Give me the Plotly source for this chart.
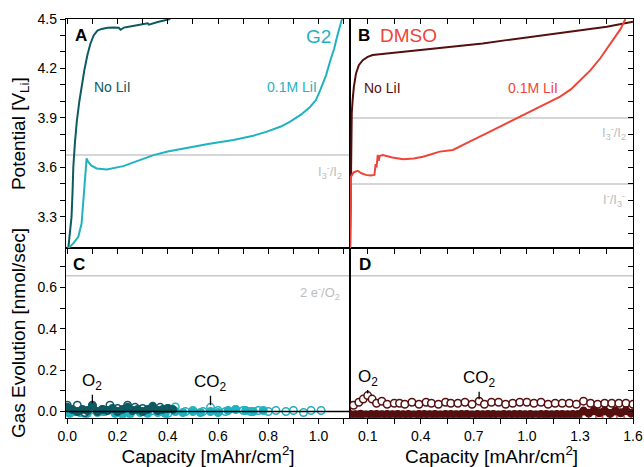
import plotly.graph_objects as go

# ---------------- Potential profiles (charge at constant current) ----------------
# G2, no LiI
g2_nolii_cap = [0.000, 0.004, 0.010, 0.017, 0.021, 0.024, 0.030, 0.038, 0.048, 0.058, 0.068,
                0.080, 0.092, 0.105, 0.120, 0.137, 0.160, 0.185, 0.205, 0.212, 0.225, 0.250,
                0.290, 0.320, 0.325, 0.360, 0.410]
g2_nolii_v = [3.05, 3.11, 3.20, 3.30, 3.45, 3.60, 3.74, 3.88, 4.00, 4.10, 4.19,
              4.28, 4.35, 4.40, 4.43, 4.44, 4.447, 4.448, 4.447, 4.435, 4.448, 4.455,
              4.467, 4.474, 4.466, 4.482, 4.50]

# G2, 0.1 M LiI
g2_lii_cap = [0.000, 0.004, 0.024, 0.044, 0.057, 0.064, 0.070, 0.077, 0.083, 0.095, 0.117,
              0.157, 0.223, 0.290, 0.343, 0.400, 0.462, 0.560, 0.661, 0.740, 0.794, 0.850,
              0.887, 0.930, 0.967, 0.990, 1.007, 1.030, 1.047, 1.062, 1.073, 1.093]
g2_lii_v = [3.05, 3.11, 3.14, 3.18, 3.26, 3.40, 3.56, 3.655, 3.635, 3.612, 3.594,
            3.588, 3.608, 3.645, 3.675, 3.697, 3.716, 3.742, 3.767, 3.792, 3.817, 3.848,
            3.878, 3.920, 3.968, 4.010, 4.070, 4.160, 4.250, 4.320, 4.390, 4.500]

# DMSO, no LiI
dmso_nolii_cap = [0.000, 0.003, 0.006, 0.010, 0.015, 0.022, 0.034, 0.050, 0.072, 0.100, 0.128,
                  0.200, 0.318, 0.450, 0.601, 0.750, 0.885, 1.030, 1.168, 1.300, 1.452, 1.600]
dmso_nolii_v = [3.05, 3.50, 3.807, 3.93, 4.01, 4.09, 4.17, 4.22, 4.25, 4.27, 4.282,
                4.29, 4.302, 4.316, 4.333, 4.352, 4.372, 4.393, 4.413, 4.432, 4.453, 4.484]

# DMSO, 0.1 M LiI
dmso_lii_cap = [0.000, 0.003, 0.006, 0.020, 0.043, 0.065, 0.090, 0.115, 0.138, 0.145, 0.150,
                0.157, 0.162, 0.168, 0.185, 0.240, 0.300, 0.360, 0.412, 0.460, 0.507, 0.582,
                0.640, 0.696, 0.760, 0.828, 0.900, 0.961, 1.074, 1.188, 1.250, 1.301, 1.360,
                1.415, 1.490, 1.530, 1.557]
dmso_lii_v = [3.05, 3.35, 3.544, 3.570, 3.580, 3.565, 3.555, 3.552, 3.555, 3.620, 3.600,
              3.676, 3.640, 3.670, 3.676, 3.660, 3.650, 3.655, 3.665, 3.680, 3.696, 3.706,
              3.735, 3.767, 3.800, 3.837, 3.873, 3.908, 3.968, 4.030, 4.075, 4.130, 4.190,
              4.262, 4.373, 4.440, 4.500]

# Redox reference potentials [V vs Li]
g2_redox_v = [3.675]
g2_redox_lbl = ["I<sub>3</sub><sup>-</sup>/I<sub>2</sub>"]
dmso_redox_v = [3.90, 3.50]
dmso_redox_lbl = ["I<sub>3</sub><sup>-</sup>/I<sub>2</sub>", "I<sup>-</sup>/I<sub>3</sub><sup>-</sup>"]

# Theoretical O2 evolution rate for 2 e-/O2 [nmol/sec]
two_e_rate = 0.657

# ---------------- Gas evolution (DEMS) ----------------
g2_lii_co2_cap = [0.00, 0.03, 0.07, 0.10, 0.14, 0.17, 0.20, 0.24, 0.27, 0.30, 0.34, 0.37, 0.40,
                  0.43, 0.47, 0.50, 0.54, 0.57, 0.60, 0.63, 0.67, 0.70, 0.73, 0.76, 0.80, 0.83,
                  0.87, 0.90, 0.94, 0.97, 1.01]
g2_lii_co2 = [0.010, 0.000, -0.010, 0.010, 0.000, 0.010, -0.005, 0.000, 0.010, 0.000, 0.005, 0.000,
              -0.010, 0.022, 0.000, 0.005, 0.000, 0.020, 0.005, 0.000, 0.010, 0.005, 0.000, 0.005,
              0.000, 0.005, 0.000, 0.005, -0.005, 0.005, 0.005]

g2_lii_o2_cap = [0.01, 0.05, 0.08, 0.12, 0.15, 0.19, 0.22, 0.25, 0.29, 0.32, 0.36, 0.39, 0.43,
                 0.46, 0.50, 0.53, 0.57, 0.60, 0.64, 0.67, 0.71, 0.74, 0.78]
g2_lii_o2 = [-0.010, -0.005, -0.010, -0.005, 0.000, -0.010, -0.015, -0.012, -0.005, -0.010,
             -0.005, -0.010, 0.000, -0.005, 0.000, -0.005, 0.000, -0.005, 0.005, 0.010, 0.005,
             0.000, 0.005]

g2_nolii_co2_cap = [0.00, 0.04, 0.07, 0.10, 0.14, 0.17, 0.20, 0.24, 0.27, 0.30, 0.34, 0.37, 0.40]
g2_nolii_co2 = [0.030, 0.030, -0.005, 0.030, 0.010, 0.030, 0.015, 0.030, 0.020, 0.015, 0.025,
                0.020, 0.015]

g2_nolii_o2_cap = [0.00, 0.02, 0.04, 0.06, 0.08, 0.10, 0.12, 0.14, 0.16, 0.18, 0.20, 0.22, 0.24,
                   0.26, 0.28, 0.30, 0.32, 0.34, 0.36, 0.38, 0.40, 0.42]
g2_nolii_o2 = [0.020, 0.010, 0.000, 0.010, 0.005, 0.025, 0.000, 0.010, 0.005, 0.015, 0.000,
               0.010, 0.020, 0.005, 0.010, 0.000, 0.010, 0.020, 0.005, 0.010, 0.015, 0.010]

dmso_nolii_co2_cap = [0.02, 0.05, 0.075, 0.10, 0.125, 0.15, 0.18, 0.21, 0.25, 0.28, 0.31, 0.35,
                      0.39, 0.43, 0.46, 0.50, 0.54, 0.57, 0.61, 0.65, 0.69, 0.73, 0.76, 0.80,
                      0.84, 0.88, 0.92, 0.96, 1.00, 1.04, 1.08, 1.12, 1.16, 1.20, 1.24, 1.28,
                      1.32, 1.36, 1.40, 1.44, 1.48, 1.52, 1.56, 1.60]
dmso_nolii_co2 = [0.030, 0.045, 0.060, 0.077, 0.060, 0.040, 0.050, 0.035, 0.040, 0.040, 0.035,
                  0.045, 0.035, 0.045, 0.040, 0.035, 0.045, 0.040, 0.040, 0.045, 0.035, 0.050,
                  0.035, 0.045, 0.045, 0.035, 0.040, 0.045, 0.045, 0.040, 0.045, 0.035, 0.040,
                  0.040, 0.040, 0.035, 0.050, 0.040, 0.035, 0.040, 0.040, 0.040, 0.040, 0.035]

dmso_nolii_o2_cap = [0.00, 0.03, 0.06, 0.09, 0.12, 0.15, 0.18, 0.21, 0.24, 0.27, 0.30, 0.33,
                     0.36, 0.39, 0.42, 0.45, 0.48, 0.51, 0.54, 0.57, 0.60, 0.63, 0.66, 0.69,
                     0.72, 0.75, 0.78, 0.81, 0.84, 0.87, 0.90, 0.93, 0.96, 0.99, 1.02, 1.05,
                     1.08, 1.11, 1.14, 1.17, 1.20, 1.23, 1.26, 1.29, 1.32, 1.35, 1.38, 1.41,
                     1.44, 1.47, 1.50, 1.53, 1.56, 1.59]
dmso_nolii_o2 = [-0.014, -0.016, -0.013, -0.017, -0.015, -0.014, -0.016, -0.015, -0.016, -0.014,
                 -0.016, -0.015, -0.017, -0.014, -0.015, -0.016, -0.014, -0.017, -0.015, -0.014,
                 -0.016, -0.015, -0.014, -0.017, -0.015, -0.016, -0.014, -0.015, -0.017, -0.014,
                 -0.016, -0.015, -0.014, -0.016, -0.015, -0.017, -0.014, -0.015, -0.016, -0.014,
                 -0.015, -0.016, -0.014, -0.015, 0.002, -0.008, 0.004, -0.006, 0.003, -0.010,
                 0.002, -0.006, 0.004, -0.008]

dmso_lii_gas_cap = [0.01, 0.05, 0.09, 0.13, 0.17, 0.21, 0.25, 0.29, 0.33, 0.37, 0.41, 0.45, 0.49,
                    0.53, 0.57, 0.61, 0.65, 0.69, 0.73, 0.77, 0.81, 0.85, 0.89, 0.93, 0.97, 1.01,
                    1.05, 1.09, 1.13, 1.17, 1.21, 1.25, 1.29, 1.33, 1.37, 1.41, 1.45, 1.49, 1.53,
                    1.57]
dmso_lii_gas = [-0.028, -0.025, -0.030, -0.026, -0.028, -0.025, -0.030, -0.027, -0.026, -0.029,
                -0.025, -0.028, -0.030, -0.026, -0.027, -0.029, -0.025, -0.028, -0.026, -0.030,
                -0.027, -0.025, -0.029, -0.026, -0.028, -0.030, -0.025, -0.027, -0.029, -0.026,
                -0.028, -0.025, -0.030, -0.020, -0.025, -0.018, -0.026, -0.020, -0.024, -0.019]

# ---------------- Style ----------------
C_G2_NO = "#0e5a63"
C_G2_LI = "#1fb2c0"
C_DM_NO = "#560f0f"
C_DM_LI = "#ef4538"
GREY = "#c8c8c8"
GREY_TXT = "#bdbdbd"
FONT = "Liberation Sans, Arial, sans-serif"

X_LEFT = [66 / 644, 350 / 644]
X_RIGHT = [350 / 644, 633 / 644]
Y_TOP = [(467 - 248.3) / 467, (467 - 19) / 467]
Y_BOT = [(467 - 417.7) / 467, (467 - 248.3) / 467]
XR_LEFT = [-0.005, 1.125]
XR_RIGHT = [0.0, 1.6]
YR_TOP = [3.11, 4.5]
YR_BOT = [-0.03, 0.79]

fig = go.Figure()


def curve(x, y, color, xa, ya):
    fig.add_trace(go.Scatter(x=x, y=y, mode="lines", line=dict(color=color, width=2),
                             xaxis=xa, yaxis=ya, showlegend=False, hoverinfo="skip"))


def dots(x, y, color, xa, ya, filled):
    fig.add_trace(go.Scatter(
        x=x, y=y, mode="markers", xaxis=xa, yaxis=ya, showlegend=False, hoverinfo="skip",
        marker=dict(size=7.5, symbol="circle", color=color if filled else "white",
                    line=dict(color=color, width=1.5))))


# Panel A / B: potential profiles
curve(g2_nolii_cap, g2_nolii_v, C_G2_NO, "x3", "y3")
curve(g2_lii_cap, g2_lii_v, C_G2_LI, "x3", "y3")
curve(dmso_nolii_cap, dmso_nolii_v, C_DM_NO, "x4", "y4")
curve(dmso_lii_cap, dmso_lii_v, C_DM_LI, "x4", "y4")

# Panel C / D: gas evolution
dots(g2_lii_co2_cap, g2_lii_co2, C_G2_LI, "x", "y", False)
dots(g2_lii_o2_cap, g2_lii_o2, C_G2_LI, "x", "y", True)
dots(g2_nolii_co2_cap, g2_nolii_co2, C_G2_NO, "x", "y", False)
dots(g2_nolii_o2_cap, g2_nolii_o2, C_G2_NO, "x", "y", True)

dots(dmso_lii_gas_cap, dmso_lii_gas, C_DM_LI, "x2", "y2", False)
dots(dmso_nolii_co2_cap, dmso_nolii_co2, C_DM_NO, "x2", "y2", False)
dots(dmso_nolii_o2_cap, dmso_nolii_o2, C_DM_NO, "x2", "y2", True)

# Empty traces so the mirrored tick axes get drawn
for xa, ya in [("x5", "y3"), ("x6", "y4"), ("x4", "y5"), ("x2", "y6")]:
    fig.add_trace(go.Scatter(x=[None], y=[None], mode="markers", xaxis=xa, yaxis=ya,
                             showlegend=False, hoverinfo="skip"))

TICKFONT = dict(family=FONT, size=14, color="black")
TITLEFONT = dict(family=FONT, size=19, color="black")


def base_axis(domain, rng, tick0, dtick, mtick0, mdtick, ticks="outside", labels=True, line=True):
    return dict(
        domain=domain, range=rng, autorange=False, showgrid=False, zeroline=False,
        showline=line, linecolor="black", linewidth=1.3, mirror=line,
        ticks=ticks, ticklen=5, tickwidth=1.2, tickcolor="black",
        tick0=tick0, dtick=dtick, tickformat=".1f", showticklabels=labels, tickfont=TICKFONT,
        minor=dict(ticks=ticks, ticklen=5, tickwidth=1.2, tickcolor="black",
                   tick0=mtick0, dtick=mdtick, showgrid=False) if ticks else None,
        automargin=False,
    )


cap_title = dict(text="Capacity [mAhr/cm<sup>2</sup>]", font=TITLEFONT, standoff=4)

xaxis = base_axis(X_LEFT, XR_LEFT, 0, 0.2, 0, 0.1)
xaxis.update(anchor="y", title=cap_title)
yaxis = base_axis(Y_BOT, YR_BOT, 0, 0.2, 0, 0.1)
yaxis.update(anchor="x", title=dict(text="Gas Evolution [nmol/sec]", font=TITLEFONT, standoff=6))

xaxis2 = base_axis(X_RIGHT, XR_RIGHT, 0.1, 0.3, 0.1, 0.15)
xaxis2.update(anchor="y2", title=cap_title)
yaxis2 = base_axis(Y_BOT, YR_BOT, 0, 0.2, 0, 0.1, ticks="", labels=False)
yaxis2.update(anchor="x2")

xaxis3 = base_axis(X_LEFT, XR_LEFT, 0, 0.2, 0, 0.1, labels=False)
xaxis3.update(anchor="y3")
yaxis3 = base_axis(Y_TOP, YR_TOP, 3.3, 0.3, 3.3, 0.1)
yaxis3.update(anchor="x3", title=dict(text="Potential [V<sub>Li</sub>]", font=TITLEFONT, standoff=6))

xaxis4 = base_axis(X_RIGHT, XR_RIGHT, 0.1, 0.3, 0.1, 0.15, labels=False)
xaxis4.update(anchor="y4")
yaxis4 = base_axis(Y_TOP, YR_TOP, 3.3, 0.3, 3.3, 0.1, ticks="", labels=False)
yaxis4.update(anchor="x4")

# Inward ticks on the top and right frame edges
xaxis5 = base_axis(X_LEFT, XR_LEFT, 0, 0.2, 0, 0.1, ticks="inside", labels=False, line=False)
xaxis5.update(anchor="y3", overlaying="x3", side="top")
xaxis6 = base_axis(X_RIGHT, XR_RIGHT, 0.1, 0.3, 0.1, 0.15, ticks="inside", labels=False, line=False)
xaxis6.update(anchor="y4", overlaying="x4", side="top")
yaxis5 = base_axis(Y_TOP, YR_TOP, 3.3, 0.3, 3.3, 0.1, ticks="inside", labels=False, line=False)
yaxis5.update(anchor="x4", overlaying="y4", side="right")
yaxis6 = base_axis(Y_BOT, YR_BOT, 0, 0.2, 0, 0.1, ticks="inside", labels=False, line=False)
yaxis6.update(anchor="x2", overlaying="y2", side="right")

# Reference lines
shapes = []
for v in g2_redox_v:
    shapes.append(dict(type="line", xref="x3 domain", yref="y3", x0=0, x1=1, y0=v, y1=v,
                       line=dict(color=GREY, width=1.5), layer="below"))
for v in dmso_redox_v:
    shapes.append(dict(type="line", xref="x4 domain", yref="y4", x0=0, x1=1, y0=v, y1=v,
                       line=dict(color=GREY, width=1.5), layer="below"))
for xa, ya in [("x", "y"), ("x2", "y2")]:
    shapes.append(dict(type="line", xref=f"{xa} domain", yref=ya, x0=0, x1=1,
                       y0=two_e_rate, y1=two_e_rate, line=dict(color=GREY, width=1.5), layer="below"))
# zero baselines
shapes.append(dict(type="line", xref="x domain", yref="y", x0=0, x1=1, y0=0, y1=0,
                   line=dict(color="black", width=1.5), layer="above"))
shapes.append(dict(type="line", xref="x2 domain", yref="y2", x0=0, x1=1, y0=0, y1=0,
                   line=dict(color="black", width=1.5), layer="below"))


def txt(x, y, text, xa, ya, color="black", size=14, anchor="left", bold=False):
    return dict(x=x, y=y, xref=xa, yref=ya, text=f"<b>{text}</b>" if bold else text,
                showarrow=False, xanchor=anchor, yanchor="middle",
                font=dict(family=FONT, size=size, color=color))


def pointer(x, y, text, xa, ya, ay):
    return dict(x=x, y=y, xref=xa, yref=ya, text=text, showarrow=True, arrowhead=0,
                arrowwidth=1.3, arrowcolor="black", ax=0, ay=ay, standoff=2,
                font=dict(family=FONT, size=17, color="black"))


annotations = [
    txt(0.023, 4.40, "A", "x3", "y3", size=17, bold=True),
    txt(1.0, 4.395, "G2", "x3", "y3", color=C_G2_LI, size=19, anchor="center"),
    txt(0.10, 4.088, "No LiI", "x3", "y3", color=C_G2_NO),
    txt(0.785, 4.088, "0.1M LiI", "x3", "y3", color=C_G2_LI),
    txt(1.100, 3.573, g2_redox_lbl[0], "x3", "y3", color=GREY_TXT, size=13, anchor="right"),

    txt(0.036, 4.40, "B", "x4", "y4", size=17, bold=True),
    txt(0.16, 4.40, "DMSO", "x4", "y4", color=C_DM_LI, size=19),
    txt(0.07, 4.082, "No LiI", "x4", "y4", color=C_DM_NO),
    txt(0.88, 4.082, "0.1M LiI", "x4", "y4", color=C_DM_LI),
    txt(1.495, 3.81, dmso_redox_lbl[0], "x4", "y4", color=GREY_TXT, size=13, anchor="center"),
    txt(1.495, 3.403, dmso_redox_lbl[1], "x4", "y4", color=GREY_TXT, size=13, anchor="center"),

    txt(0.015, 0.71, "C", "x", "y", size=17, bold=True),
    txt(1.094, 0.574, "2 e<sup>-</sup>/O<sub>2</sub>", "x", "y", color=GREY_TXT, size=13, anchor="right"),
    pointer(0.10, 0.030, "O<sub>2</sub>", "x", "y", -23),
    pointer(0.57, 0.020, "CO<sub>2</sub>", "x", "y", -24),

    txt(0.04, 0.71, "D", "x2", "y2", size=17, bold=True),
    pointer(0.10, 0.077, "O<sub>2</sub>", "x2", "y2", -18),
    pointer(0.73, 0.050, "CO<sub>2</sub>", "x2", "y2", -22),
]

fig.update_layout(
    width=644, height=467, margin=dict(l=0, r=0, t=0, b=0),
    paper_bgcolor="white", plot_bgcolor="white",
    font=dict(family=FONT, size=14, color="black"),
    xaxis=xaxis, yaxis=yaxis, xaxis2=xaxis2, yaxis2=yaxis2,
    xaxis3=xaxis3, yaxis3=yaxis3, xaxis4=xaxis4, yaxis4=yaxis4,
    xaxis5=xaxis5, xaxis6=xaxis6, yaxis5=yaxis5, yaxis6=yaxis6,
    shapes=shapes, annotations=annotations, showlegend=False,
)

fig.write_html("out.html")
